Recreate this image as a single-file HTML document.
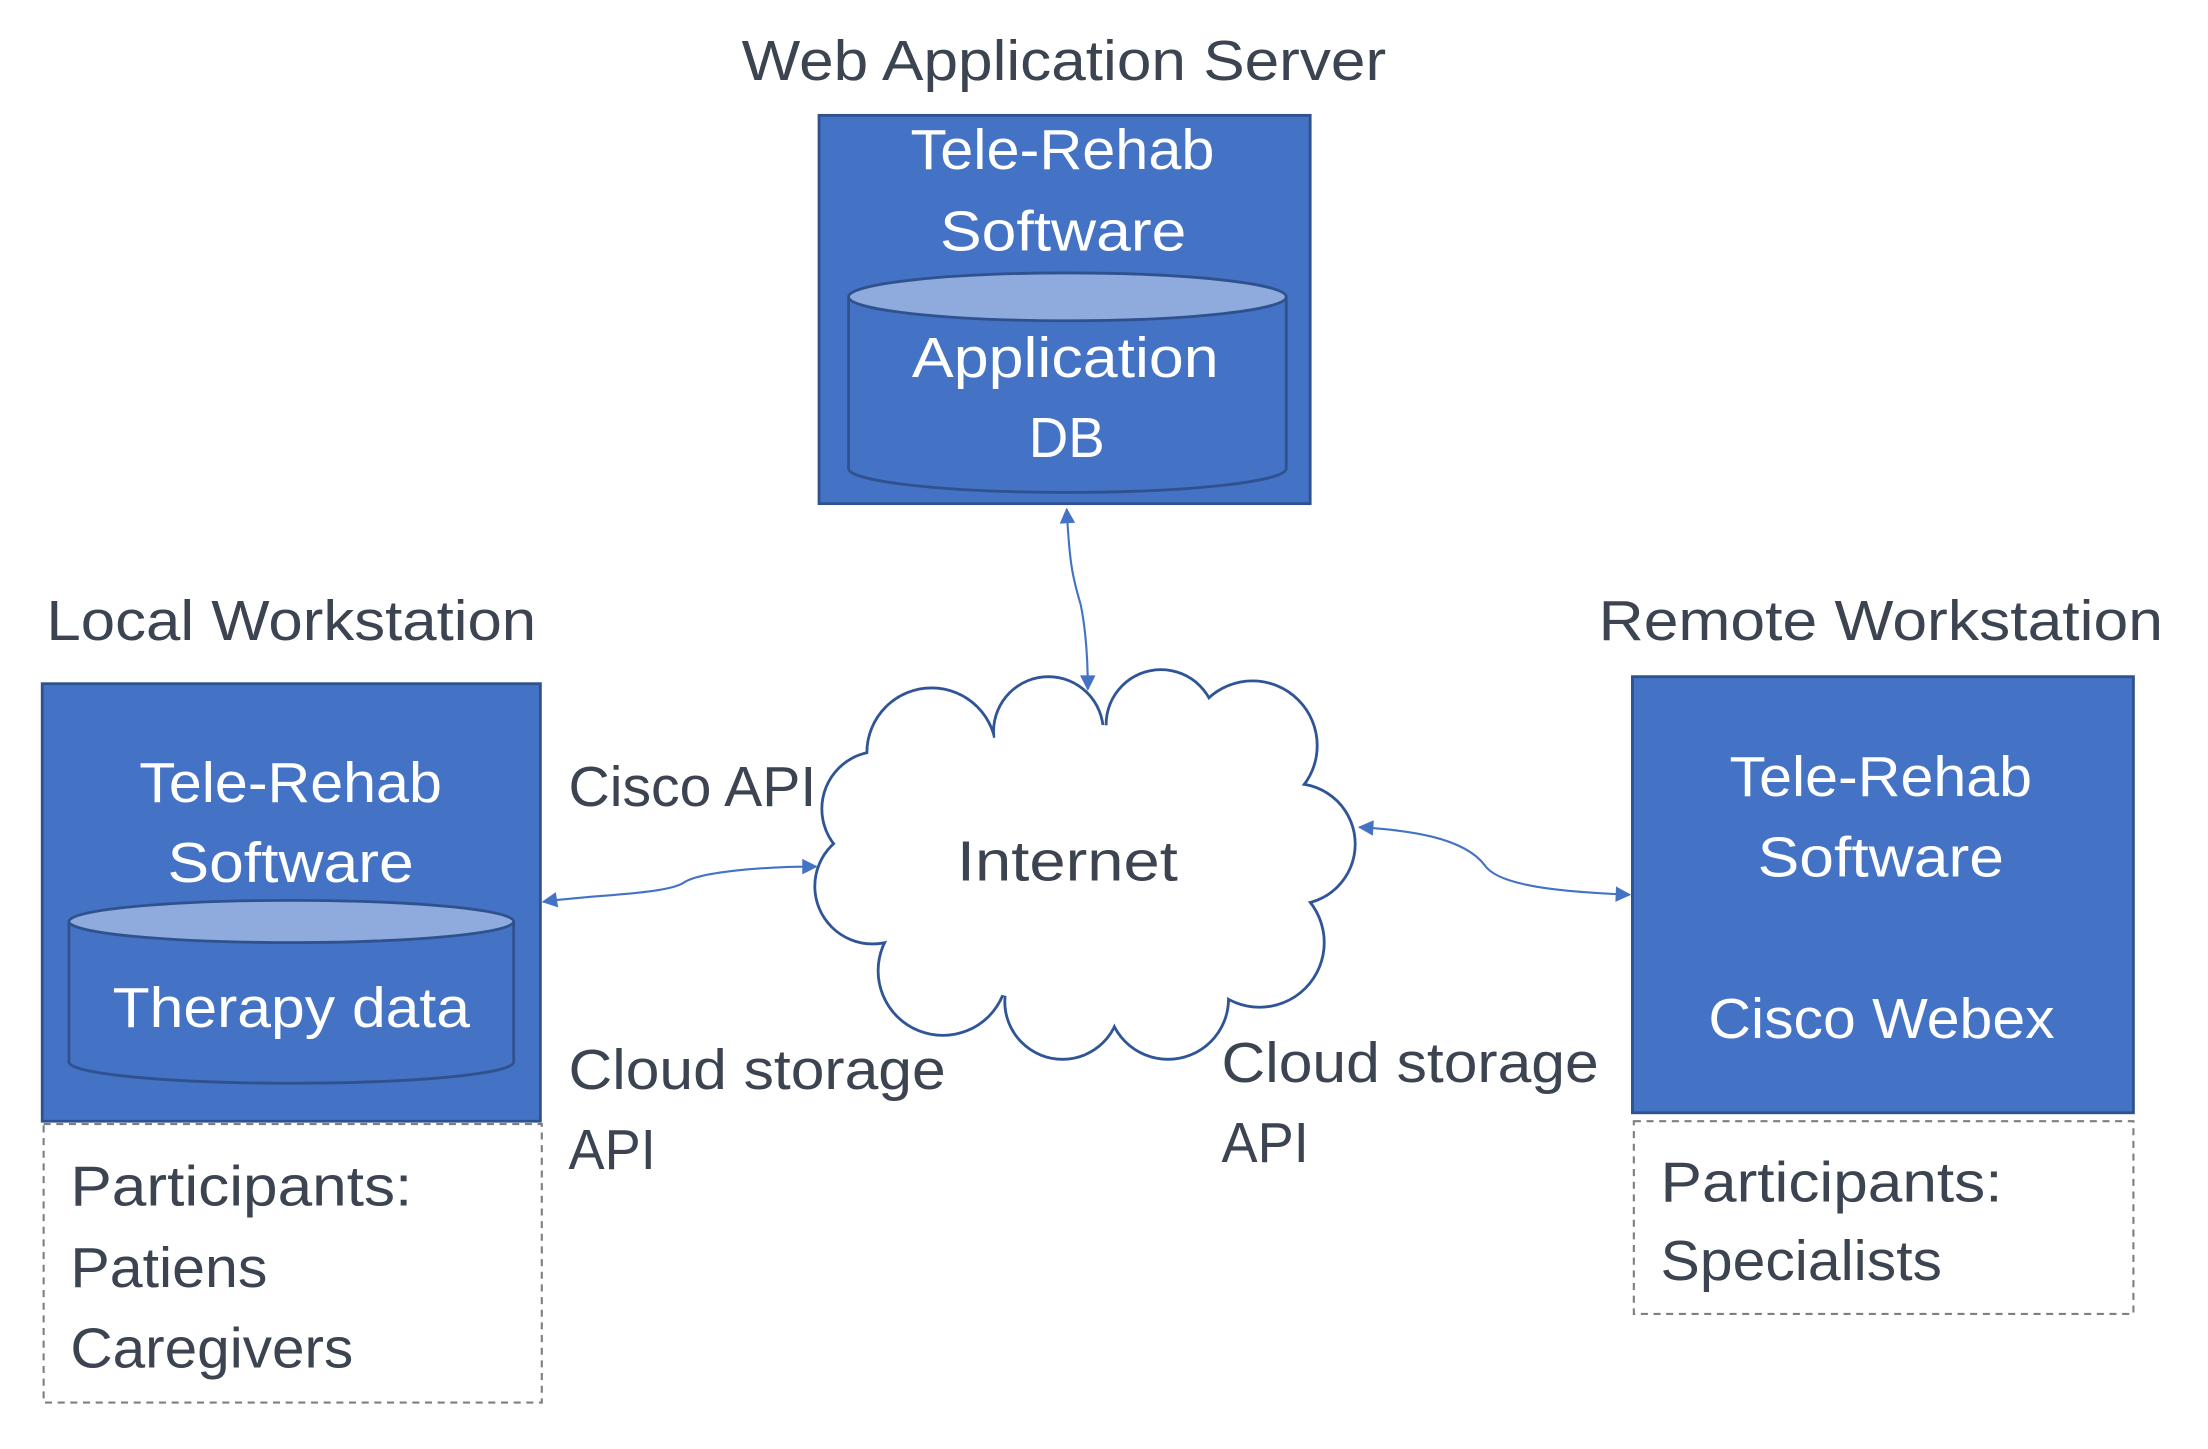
<!DOCTYPE html>
<html><head><meta charset="utf-8"><style>
html,body{margin:0;padding:0;background:#fff;width:2208px;height:1449px;overflow:hidden}
svg{display:block}
text{font-family:"Liberation Sans",sans-serif;font-size:40px}
.d{fill:#3b4450}
.w{fill:#fff}
</style></head><body>
<svg width="2208" height="1449" viewBox="0 0 1569 1030" preserveAspectRatio="none" xmlns="http://www.w3.org/2000/svg">
<defs>
<marker id="a" viewBox="0 0 10 10" refX="9" refY="5" markerWidth="13" markerHeight="11" orient="auto-start-reverse" markerUnits="userSpaceOnUse">
<path d="M0,0 L10,5 L0,10 z" fill="#4472C4"/></marker>
</defs>
<!-- top -->
<text class="d" x="527" y="57" textLength="458" lengthAdjust="spacingAndGlyphs">Web Application Server</text>
<rect x="582" y="82" width="349" height="276" fill="#4472C4" stroke="#2F528F" stroke-width="2"/>
<text class="w" x="647" y="120" textLength="216" lengthAdjust="spacingAndGlyphs">Tele-Rehab</text>
<text class="w" x="668" y="178" textLength="175" lengthAdjust="spacingAndGlyphs">Software</text>
<path d="M603,211 L603,333 A155.5,17 0 0 0 914,333 L914,211" fill="#4472C4" stroke="#2F528F" stroke-width="2"/>
<ellipse cx="758.5" cy="211" rx="155.5" ry="17" fill="#8FAADC" stroke="#2F528F" stroke-width="2"/>
<text class="w" x="648" y="268" textLength="218" lengthAdjust="spacingAndGlyphs">Application</text>
<text class="w" x="731" y="325" textLength="54" lengthAdjust="spacingAndGlyphs">DB</text>

<!-- left -->
<text class="d" x="33" y="455" textLength="348" lengthAdjust="spacingAndGlyphs">Local Workstation</text>
<rect x="30" y="486" width="354" height="311" fill="#4472C4" stroke="#2F528F" stroke-width="2"/>
<text class="w" x="99" y="570" textLength="215" lengthAdjust="spacingAndGlyphs">Tele-Rehab</text>
<text class="w" x="119" y="627" textLength="175" lengthAdjust="spacingAndGlyphs">Software</text>
<path d="M49,655 L49,755 A158,15 0 0 0 365,755 L365,655" fill="#4472C4" stroke="#2F528F" stroke-width="2"/>
<ellipse cx="207" cy="655" rx="158" ry="15" fill="#8FAADC" stroke="#2F528F" stroke-width="2"/>
<text class="w" x="80" y="730" textLength="254" lengthAdjust="spacingAndGlyphs">Therapy data</text>
<rect x="31" y="799" width="354" height="198" fill="none" stroke="#7f7f7f" stroke-width="1.5" stroke-dasharray="5,4"/>
<text class="d" x="50" y="857" textLength="243" lengthAdjust="spacingAndGlyphs">Participants:</text>
<text class="d" x="50" y="915" textLength="140" lengthAdjust="spacingAndGlyphs">Patiens</text>
<text class="d" x="50" y="972" textLength="201" lengthAdjust="spacingAndGlyphs">Caregivers</text>

<!-- right -->
<text class="d" x="1136" y="455" textLength="401" lengthAdjust="spacingAndGlyphs">Remote Workstation</text>
<rect x="1160" y="481" width="356" height="310" fill="#4472C4" stroke="#2F528F" stroke-width="2"/>
<text class="w" x="1229" y="566" textLength="215" lengthAdjust="spacingAndGlyphs">Tele-Rehab</text>
<text class="w" x="1249" y="623" textLength="175" lengthAdjust="spacingAndGlyphs">Software</text>
<text class="w" x="1214" y="738" textLength="246" lengthAdjust="spacingAndGlyphs">Cisco Webex</text>
<rect x="1161" y="797" width="355" height="137" fill="none" stroke="#7f7f7f" stroke-width="1.5" stroke-dasharray="5,4"/>
<text class="d" x="1180" y="854" textLength="243" lengthAdjust="spacingAndGlyphs">Participants:</text>
<text class="d" x="1180" y="910" textLength="200" lengthAdjust="spacingAndGlyphs">Specialists</text>

<!-- labels -->
<text class="d" x="404" y="573" textLength="176" lengthAdjust="spacingAndGlyphs">Cisco API</text>
<text class="d" x="404" y="774" textLength="268" lengthAdjust="spacingAndGlyphs">Cloud storage</text>
<text class="d" x="404" y="831" textLength="62" lengthAdjust="spacingAndGlyphs">API</text>
<text class="d" x="868" y="769" textLength="268" lengthAdjust="spacingAndGlyphs">Cloud storage</text>
<text class="d" x="868" y="826" textLength="62" lengthAdjust="spacingAndGlyphs">API</text>

<!-- cloud -->
<g fill="#fff" stroke="#2F5597" stroke-width="4">
<circle cx="662" cy="535" r="45"/><circle cx="745" cy="520" r="38"/><circle cx="825" cy="515" r="38"/>
<circle cx="890" cy="530" r="45"/><circle cx="920" cy="600" r="42"/><circle cx="895" cy="670" r="45"/>
<circle cx="830" cy="710" r="42"/><circle cx="755" cy="712" r="40"/><circle cx="670" cy="690" r="45"/>
<circle cx="620" cy="630" r="40"/><circle cx="625" cy="575" r="40"/>
</g>
<g fill="#fff">
<circle cx="662" cy="535" r="45"/><circle cx="745" cy="520" r="38"/><circle cx="825" cy="515" r="38"/>
<circle cx="890" cy="530" r="45"/><circle cx="920" cy="600" r="42"/><circle cx="895" cy="670" r="45"/>
<circle cx="830" cy="710" r="42"/><circle cx="755" cy="712" r="40"/><circle cx="670" cy="690" r="45"/>
<circle cx="620" cy="630" r="40"/><circle cx="625" cy="575" r="40"/>
<ellipse cx="770" cy="615" rx="150" ry="100"/>
</g>
<text class="d" x="680" y="626" textLength="157" lengthAdjust="spacingAndGlyphs">Internet</text>

<!-- connectors -->
<g fill="none" stroke="#4472C4" stroke-width="1.5">
<path d="M758,362 C760,400 762,410 768,430 C772,450 773,470 773,490" marker-start="url(#a)" marker-end="url(#a)"/>
<path d="M386,641 C420,636 470,636 485,628 C495,620 540,616 580,616" marker-start="url(#a)" marker-end="url(#a)"/>
<path d="M966,588 C1000,590 1040,595 1055,615 C1065,630 1110,634 1158,636" marker-start="url(#a)" marker-end="url(#a)"/>
</g>
</svg>
</body></html>
